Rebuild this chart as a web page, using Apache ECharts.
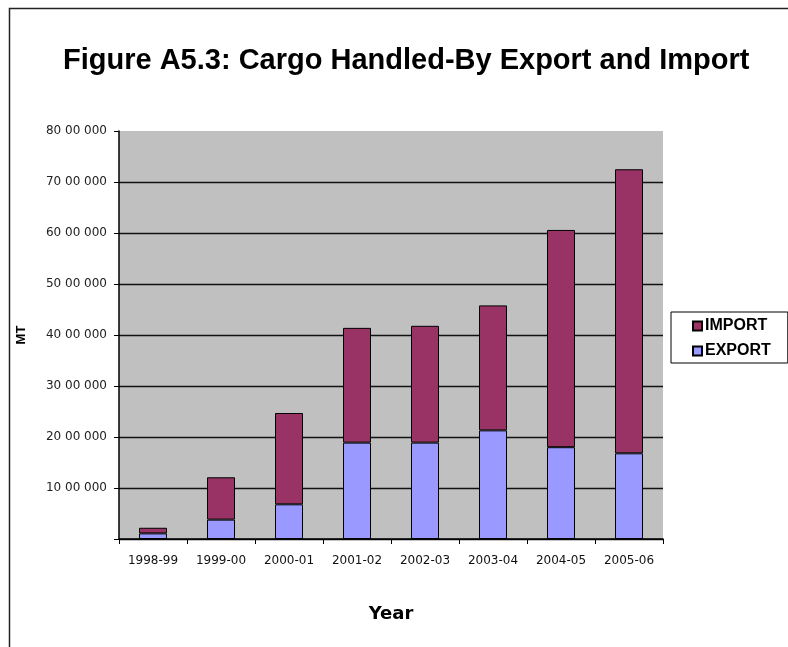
<!DOCTYPE html>
<html>
<head>
<meta charset="utf-8">
<style>
  html, body { margin: 0; padding: 0; background: #ffffff; }
  #chart { width: 788px; height: 647px; }
</style>
<script src="https://cdn.jsdelivr.net/npm/echarts@6/dist/echarts.min.js"></script>
</head>
<body>
<div id="chart"></div>
<script>
const titleText = 'Figure A5.3: Cargo Handled-By Export and Import';
const categories = ['1998-99', '1999-00', '2000-01', '2001-02', '2002-03', '2003-04', '2004-05', '2005-06'];
const exportValues = [110000, 380000, 680000, 1890000, 1890000, 2130000, 1800000, 1680000];
const importValues = [110000, 830000, 1790000, 2250000, 2290000, 2450000, 4260000, 5570000];
const yTickLabels = ['', '10 00 000', '20 00 000', '30 00 000', '40 00 000', '50 00 000', '60 00 000', '70 00 000', '80 00 000'];
const yStep = 1000000;
const yMax = 8000000;

const chart = echarts.init(document.getElementById('chart'), null, { renderer: 'canvas' });

const gridColors = yTickLabels.map((_, i) => (i === yTickLabels.length - 1 ? 'rgba(0,0,0,0)' : '#111111'));

chart.setOption({
  animation: false,
  backgroundColor: '#ffffff',
  graphic: [{
    type: 'rect',
    shape: { x: 9.5, y: 8.5, width: 800, height: 660 },
    style: { fill: 'none', stroke: '#222222', lineWidth: 1.5 },
    silent: true
  }],
  title: {
    text: titleText,
    left: 58,
    top: 41,
    textStyle: {
      fontFamily: 'Liberation Sans, Arial, sans-serif',
      fontWeight: 'bold',
      fontSize: 29,
      lineHeight: 29,
      color: '#000000'
    }
  },
  legend: {
    data: ['IMPORT', 'EXPORT'],
    orient: 'vertical',
    left: 671,
    top: 312,
    padding: [6, 17, 4, 21],
    itemGap: 9,
    itemWidth: 9,
    itemHeight: 9,
    icon: 'rect',
    borderColor: '#000000',
    borderWidth: 1,
    backgroundColor: '#ffffff',
    textStyle: {
      fontFamily: 'Liberation Sans, Arial, sans-serif',
      fontWeight: 'bold',
      fontSize: 16,
      lineHeight: 16,
      color: '#000000',
      padding: [0, 0, 0, -2]
    }
  },
  grid: {
    left: 119,
    right: 125,
    top: 131,
    bottom: 108,
    containLabel: false,
    outerBoundsMode: 'none',
    show: true,
    backgroundColor: '#C0C0C0',
    borderWidth: 0
  },
  xAxis: {
    type: 'category',
    data: categories,
    boundaryGap: true,
    name: 'Year',
    nameLocation: 'middle',
    nameGap: 66,
    nameTextStyle: {
      fontFamily: 'DejaVu Sans, sans-serif',
      fontWeight: 'bold',
      fontSize: 18,
      color: '#000000'
    },
    axisLine: { show: true, lineStyle: { color: '#000000', width: 1.5 } },
    axisTick: { show: true, inside: false, length: 5, alignWithLabel: false, lineStyle: { color: '#000000', width: 1 } },
    axisLabel: {
      margin: 16,
      fontFamily: 'DejaVu Sans, sans-serif',
      fontSize: 12,
      color: '#111111',
      interval: 0
    },
    splitLine: { show: false }
  },
  yAxis: {
    type: 'value',
    min: 0,
    max: yMax,
    interval: yStep,
    name: 'MT',
    nameLocation: 'middle',
    nameGap: 91,
    nameRotate: 90,
    nameTextStyle: {
      fontFamily: 'Liberation Sans, Arial, sans-serif',
      fontWeight: 'bold',
      fontSize: 13,
      color: '#000000'
    },
    axisLine: { show: true, lineStyle: { color: '#000000', width: 1.5 } },
    axisTick: { show: true, inside: false, length: 5, lineStyle: { color: '#000000', width: 1 } },
    axisLabel: {
      margin: 12,
      fontFamily: 'DejaVu Sans, sans-serif',
      fontSize: 12,
      color: '#222222',
      formatter: function (v) {
        const t = yTickLabels[Math.round(v / yStep)];
        return t === undefined ? '' : t;
      }
    },
    splitLine: { show: true, lineStyle: { color: gridColors, width: 1.3 } }
  },
  series: [
    {
      name: 'EXPORT',
      type: 'bar',
      stack: 'cargo',
      data: exportValues,
      barWidth: 28,
      itemStyle: { color: '#9999FF', borderColor: '#000000', borderWidth: 1 }
    },
    {
      name: 'IMPORT',
      type: 'bar',
      stack: 'cargo',
      data: importValues,
      barWidth: 28,
      itemStyle: { color: '#993366', borderColor: '#000000', borderWidth: 1 }
    }
  ]
});
</script>
</body>
</html>
